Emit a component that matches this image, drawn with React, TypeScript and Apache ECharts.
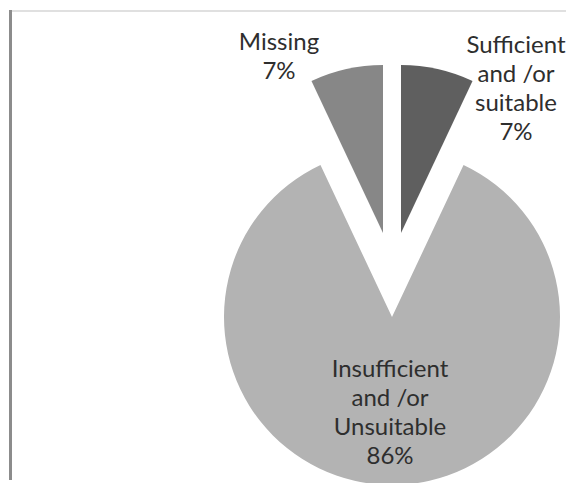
import React, { useEffect, useRef } from "react";
import * as echarts from "echarts";

// Shares of responses (percent), clockwise from 12 o'clock
const categories = [
  "Sufficient\nand /or\nsuitable",
  "Insufficient\nand /or\nUnsuitable",
  "Missing",
];
const shares = [7, 86, 7];
const sliceColors = ["#5f5f5f", "#b3b3b3", "#878787"];

// Which slice each pie layer shows, where that layer is centred, and where its label sits
const layers = [
  { show: 1, center: [392, 317], label: { x: 390, y: 411 } },
  { show: 2, center: [383, 233], label: { x: 279, y: 55 } },
  { show: 0, center: [401, 233], label: { x: 516, y: 87 } },
];

export default function App() {
  const ref = useRef<HTMLDivElement>(null);

  useEffect(() => {
    if (!ref.current) return;
    const chart = echarts.init(ref.current, undefined, { renderer: "svg" });

    const series = layers.map((layer) => ({
      type: "pie",
      center: layer.center,
      radius: 168,
      startAngle: 90,
      clockwise: true,
      silent: true,
      avoidLabelOverlap: false,
      labelLine: { show: false },
      labelLayout: {
        x: layer.label.x,
        y: layer.label.y,
        align: "center",
        verticalAlign: "middle",
      },
      data: categories.map((name, i) => {
        const visible = i === layer.show;
        return {
          name,
          value: shares[i],
          itemStyle: {
            color: visible ? sliceColors[i] : "rgba(0,0,0,0)",
            borderWidth: 0,
          },
          label: {
            show: visible,
            position: "outside",
            formatter: "{b}\n{c}%",
            color: "#2e2e2e",
            fontFamily: "Lato",
            fontSize: 24,
            lineHeight: 29,
            align: "center",
          },
        };
      }),
    }));

    chart.setOption({
      animation: false,
      backgroundColor: "#ffffff",
      graphic: [
        {
          type: "line",
          shape: { x1: 10, y1: 11, x2: 566, y2: 11 },
          style: { stroke: "#d6d6d6", lineWidth: 1.5 },
        },
        {
          type: "line",
          shape: { x1: 10.5, y1: 10, x2: 10.5, y2: 480 },
          style: { stroke: "#8c8c8c", lineWidth: 3 },
        },
      ],
      series,
    });

    return () => chart.dispose();
  }, []);

  return (
    <div
      ref={ref}
      style={{ position: "fixed", left: 0, top: 0, width: 566, height: 483 }}
    />
  );
}
